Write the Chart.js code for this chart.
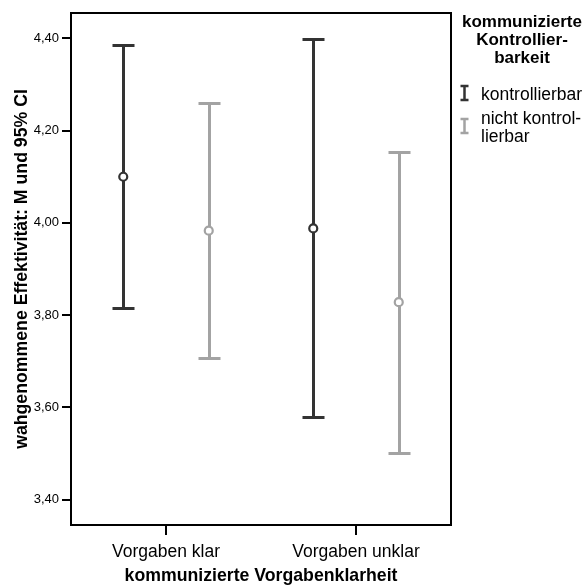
<!DOCTYPE html>
<html>
<head>
<meta charset="utf-8">
<script src="https://cdn.jsdelivr.net/npm/chart.js@4"></script>
<style>
  html, body { margin: 0; padding: 0; background: #ffffff; }
  #wrap { width: 586px; height: 585px; }
</style>
</head>
<body>
<div id="wrap"><canvas id="c"></canvas></div>
<script>
// Categories on the x axis and the two groups
const categories = ['Vorgaben klar', 'Vorgaben unklar'];
const groupLabels = [['kontrollierbar'], ['nicht kontrol-', 'lierbar']];
const legendTitle = ['kommunizierte', 'Kontrollier-', 'barkeit'];

// Means and 95% confidence limits per category
const meanKontrollierbar  = [4.100, 3.988];
const lowerKontrollierbar = [3.815, 3.579];
const upperKontrollierbar = [4.385, 4.399];

const meanNichtKontrollierbar  = [3.983, 3.828];
const lowerNichtKontrollierbar = [3.708, 3.502];
const upperNichtKontrollierbar = [4.259, 4.154];

// Y axis tick values
const yTickValues = [3.4, 3.6, 3.8, 4.0, 4.2, 4.4];

const DARK = '#333333';
const GREY = '#a3a3a3';
const FONT = '"Liberation Sans", Arial, sans-serif';
const DODGE = 0.225; // horizontal shift of each group within a category

function dodged(means, shift) {
  return means.map((m, i) => ({ x: i + 1 + shift, y: m }));
}

// Vertical confidence interval whiskers with caps, drawn beneath the mean markers
const errorBars = {
  id: 'errorBars',
  beforeDatasetsDraw(chart) {
    const { ctx, scales: { x, y } } = chart;
    chart.data.datasets.forEach(ds => {
      ctx.save();
      ctx.strokeStyle = ds.borderColor;
      ctx.lineWidth = 3;
      ctx.lineCap = 'butt';
      ds.data.forEach((p, i) => {
        const px = Math.round(x.getPixelForValue(p.x)) + 0.5;
        const top = Math.round(y.getPixelForValue(ds.ciHigh[i])) + 0.5;
        const bot = Math.round(y.getPixelForValue(ds.ciLow[i])) + 0.5;
        ctx.beginPath();
        ctx.moveTo(px, top); ctx.lineTo(px, bot);
        ctx.moveTo(px - 11, top); ctx.lineTo(px + 11, top);
        ctx.moveTo(px - 11, bot); ctx.lineTo(px + 11, bot);
        ctx.stroke();
      });
      ctx.restore();
    });
  }
};

// Box around the plotting area
const frame = {
  id: 'frame',
  afterDraw(chart) {
    const { ctx, chartArea: a } = chart;
    ctx.save();
    ctx.strokeStyle = '#000000';
    ctx.lineWidth = 2;
    ctx.strokeRect(a.left, a.top, a.right - a.left, a.bottom - a.top);
    ctx.restore();
  }
};

// Legend on the right with a wrapped title and I-shaped whisker symbols
const sideLegend = {
  id: 'sideLegend',
  afterDraw(chart) {
    const { ctx } = chart;
    ctx.save();
    ctx.fillStyle = '#000000';
    ctx.textBaseline = 'middle';
    ctx.textAlign = 'center';
    ctx.font = 'bold 17px ' + FONT;
    legendTitle.forEach((line, i) => ctx.fillText(line, 522, 22 + i * 18));

    const rows = [95, 119];
    ctx.textAlign = 'left';
    ctx.font = '17.5px ' + FONT;
    chart.data.datasets.forEach((ds, k) => {
      const lines = groupLabels[k];
      const y0 = rows[k];
      lines.forEach((t, j) => ctx.fillText(t, 481, y0 + j * 18));
      const cy = y0 + (lines.length - 1) * 18 / 2 - 2;
      const sx = 464.5;
      ctx.strokeStyle = ds.borderColor;
      ctx.lineWidth = 2.5;
      ctx.beginPath();
      ctx.moveTo(sx, cy - 7); ctx.lineTo(sx, cy + 7);
      ctx.moveTo(sx - 4, cy - 7); ctx.lineTo(sx + 4, cy - 7);
      ctx.moveTo(sx - 4, cy + 7); ctx.lineTo(sx + 4, cy + 7);
      ctx.stroke();
    });
    ctx.restore();
  }
};

new Chart(document.getElementById('c'), {
  type: 'scatter',
  data: {
    datasets: [
      {
        label: 'kontrollierbar',
        data: dodged(meanKontrollierbar, -DODGE),
        ciLow: lowerKontrollierbar,
        ciHigh: upperKontrollierbar,
        borderColor: DARK,
        backgroundColor: '#ffffff',
        pointBackgroundColor: '#ffffff',
        pointBorderColor: DARK,
        pointRadius: 4,
        pointBorderWidth: 2.2
      },
      {
        label: 'nicht kontrollierbar',
        data: dodged(meanNichtKontrollierbar, DODGE),
        ciLow: lowerNichtKontrollierbar,
        ciHigh: upperNichtKontrollierbar,
        borderColor: GREY,
        backgroundColor: '#ffffff',
        pointBackgroundColor: '#ffffff',
        pointBorderColor: GREY,
        pointRadius: 4,
        pointBorderWidth: 2.2
      }
    ]
  },
  options: {
    responsive: true,
    maintainAspectRatio: false,
    animation: false,
    layout: { padding: { top: 13, right: 135, bottom: 0, left: 0 } },
    plugins: {
      legend: { display: false },
      tooltip: { enabled: false }
    },
    scales: {
      x: {
        type: 'linear',
        min: 0.5,
        max: 2.5,
        afterBuildTicks(scale) { scale.ticks = categories.map((_, i) => ({ value: i + 1 })); },
        afterFit(scale) { scale.height = 60; },
        ticks: {
          callback: v => categories[Math.round(v) - 1],
          color: '#000000',
          font: { family: FONT, size: 17.5 },
          padding: 7,
          maxRotation: 0,
          autoSkip: false
        },
        grid: { drawOnChartArea: false, drawTicks: true, tickLength: 10, color: '#000000', lineWidth: 2 },
        border: { display: false },
        title: {
          display: true,
          text: 'kommunizierte Vorgabenklarheit',
          color: '#000000',
          font: { family: FONT, size: 17.7, weight: 'bold', lineHeight: 1.0 },
          padding: { top: 0, bottom: 0 }
        }
      },
      y: {
        type: 'linear',
        min: 3.345,
        max: 4.455,
        afterBuildTicks(scale) { scale.ticks = yTickValues.map(v => ({ value: v })); },
        afterFit(scale) { scale.width = 71; },
        ticks: {
          callback: v => v.toFixed(2).replace('.', ','),
          color: '#000000',
          font: { family: FONT, size: 13 },
          padding: 3
        },
        grid: { drawOnChartArea: false, drawTicks: true, tickLength: 9, color: '#000000', lineWidth: 2 },
        border: { display: false },
        title: {
          display: true,
          text: 'wahgenommene Effektivität: M und 95% CI',
          color: '#000000',
          font: { family: FONT, size: 17.7, weight: 'bold', lineHeight: 1.2 },
          padding: { top: 11, bottom: 0 }
        }
      }
    }
  },
  plugins: [errorBars, frame, sideLegend]
});
</script>
</body>
</html>
